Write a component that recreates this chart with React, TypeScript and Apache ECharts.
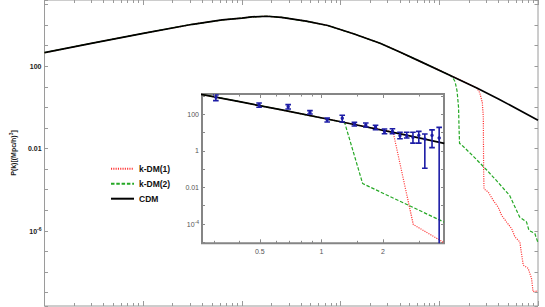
import React, { useEffect, useRef } from "react";
import * as echarts from "echarts";

// ---- main panel: CDM linear power spectrum (k in h/Mpc, P in (Mpc/h)^3)
const cdmK = [1e-4, 3.16e-4, 1e-3, 3.16e-3, 6.31e-3, 0.01, 0.0126, 0.0178, 0.0251, 0.0447, 0.0741, 0.135, 0.251, 0.398, 0.631, 1.26, 2.4, 3.98, 10];
const cdmP = [457, 1380, 3980, 10960, 17800, 21900, 25100, 26900, 23800, 15500, 9550, 3800, 1320, 490, 178, 38, 8.7, 2.57, 0.24];

// k-DM(2) departs from CDM (tail)
const green2K = [1.358, 1.445, 1.514, 1.567, 1.585, 1.603, 1.66, 2.239, 3.02, 3.802, 5.164, 6.516, 7.656, 8.091, 9.29, 10];
const green2P = [29.5, 17.8, 6.17, 1.0, 0.1, 0.0178, 0.0162, 0.00398, 9.12e-4, 2.75e-4, 5.25e-5, 4.68e-6, 2.69e-6, 1.07e-6, 7.41e-7, 2.69e-7];

// k-DM(1) departs from CDM (tail)
const red1K = [2.57, 2.729, 2.793, 2.812, 2.838, 3.141, 3.524, 3.954, 4.285, 4.808, 5.408, 5.834, 6.546, 6.808, 7.079, 7.943, 8.59, 8.913, 10];
const red1P = [5.13, 1.69, 0.316, 8.51e-4, 1.1e-4, 7.59e-5, 3.02e-5, 1.41e-5, 5.62e-6, 2.69e-6, 1.29e-6, 5.13e-7, 2.88e-7, 7.94e-8, 2.19e-8, 1.51e-8, 5.01e-9, 1.12e-9, 1.2e-9];

// ---- inset: coarse model tails
const greenInsetK = [1.295, 1.59, 3.97];
const greenInsetP = [39, 0.0162, 1.26e-4];
const redInsetK = [2.24, 2.81, 3.97];
const redInsetP = [10.6, 9.3e-5, 9.5e-6];

// ---- inset: measured points with error bars
const errK = [0.305, 0.496, 0.688, 0.879, 1.067, 1.264, 1.449, 1.647, 1.838, 2.033, 2.223, 2.42, 2.61, 2.8, 2.99, 3.2, 3.47, 3.76];
const errP = [859, 336, 258, 126, 49.9, 60.3, 30.1, 25.2, 19.5, 11.4, 11.4, 6.76, 6.76, 5.45, 7.0, 4.4, 7.0, 5.0];
const errLo = [558, 243, 196, 104, 37.8, 37.8, 22.8, 20, 14.3, 8.6, 8.6, 4.56, 5.0, 2.65, 2.65, 0.112, 1.5, 1e-6];
const errHi = [1135, 417, 336, 158, 62.6, 88, 36.3, 33.3, 24.9, 15.6, 16.2, 10.3, 10.3, 10.3, 11.6, 8.3, 14, 19.3];

// ---- tick labels
const mainYLabels: Record<number, string> = { 2: "100", [-2]: "0.01", [-6]: "{b|10}{s|-6}" };
const insetYLabels: Record<number, string> = { 2: "100", 0: "1", [-2]: "0.01", [-4]: "{b|10}{s|-4}" };
const insetXLabels: Record<string, string> = { "0.5": "0.5", "1": "1", "2": "2" };
const insetMinorK = [0.3, 0.4, 0.6, 0.7, 0.8, 0.9, 1.5, 3];

// inset k window (data outside is not passed to the inset lines)
const INSET_KMIN = 0.261;
const INSET_KMAX = 3.97;

const lg = Math.log10;
const pairs = (ks: number[], ps: number[]) => ks.map((k, i) => [k, lg(ps[i])]);
const cdmData = pairs(cdmK, cdmP);
const headUntil = (kmax: number) => cdmData.filter((d) => d[0] < kmax);
const insetWindow = (d: number[][]) => {
  const first = Math.max(0, d.findIndex((p) => p[0] >= INSET_KMIN) - 1);
  let last = d.length - 1;
  for (let i = 0; i < d.length; i++) if (d[i][0] > INSET_KMAX) { last = i; break; }
  return d.slice(first, last + 1);
};

const redMain = [...headUntil(red1K[0]), ...pairs(red1K, red1P)];
const greenMain = [...headUntil(green2K[0]), ...pairs(green2K, green2P)];
const redInset = insetWindow([...headUntil(redInsetK[0]), ...pairs(redInsetK, redInsetP)]);
const greenInset = insetWindow([...headUntil(greenInsetK[0]), ...pairs(greenInsetK, greenInsetP)]);
const cdmInset = insetWindow(cdmData);
const errData = errK.map((k, i) => [k, lg(errP[i]), lg(errLo[i]), lg(errHi[i])]);

const mainMinor: number[][] = [];
for (let d = -4; d <= 0; d++) for (let m = 2; m <= 9; m++) mainMinor.push([m * Math.pow(10, d), 0]);
const insetMinor = insetMinorK.map((k) => [k, 0]);

const FONT = "Liberation Sans, Arial, sans-serif";
const RED = "#ff3434";
const GREEN = "#25a825";
const BLUE = "#1c1ca6";
const FRAME = "#9a9a9a";

const fmtY = (labels: Record<number, string>) => (v: number) => {
  const r = Math.round(v);
  if (Math.abs(v - r) > 1e-6) return "";
  return labels[r] ?? "";
};

const richSup = (size: number, color: string, weight: string) => ({
  b: { fontSize: size, fontWeight: weight, color, fontFamily: FONT, lineHeight: 9, verticalAlign: "bottom" },
  s: { fontSize: size * 0.72, fontWeight: weight, color, fontFamily: FONT, lineHeight: 6, verticalAlign: "top" },
});

const tickRender = (len: number, color: string) => (params: any, api: any) => {
  const cs = params.coordSys;
  let x = api.coord([api.value(0), api.value(1)])[0];
  x = Math.round(x - 0.5) + 0.5;
  const yb = cs.y + cs.height;
  const yt = cs.y;
  return {
    type: "group",
    children: [
      { type: "line", shape: { x1: x, y1: yb, x2: x, y2: yb - len }, style: { stroke: color, lineWidth: 1 } },
      { type: "line", shape: { x1: x, y1: yt, x2: x, y2: yt + len }, style: { stroke: color, lineWidth: 1 } },
    ],
  };
};

const errRender = (params: any, api: any) => {
  const k = api.value(0);
  const p = api.coord([k, api.value(1)]);
  const lo = api.coord([k, api.value(2)]);
  const hi = api.coord([k, api.value(3)]);
  const st = { stroke: BLUE, lineWidth: 1.6 };
  return {
    type: "group",
    children: [
      { type: "line", shape: { x1: p[0], y1: lo[1], x2: p[0], y2: hi[1] }, style: st },
      { type: "line", shape: { x1: p[0] - 2.8, y1: lo[1], x2: p[0] + 2.8, y2: lo[1] }, style: st },
      { type: "line", shape: { x1: p[0] - 2.8, y1: hi[1], x2: p[0] + 2.8, y2: hi[1] }, style: st },
      { type: "circle", shape: { cx: p[0], cy: p[1], r: 1.7 }, style: { fill: BLUE } },
    ],
  };
};

const mainX = (pos: "bottom" | "top") => ({
  type: "log",
  gridIndex: 0,
  position: pos,
  min: 1e-4,
  max: 10,
  logBase: 10,
  axisLine: { show: false, onZero: false },
  axisTick: { show: true, inside: true, length: 5, lineStyle: { color: FRAME, width: 1 } },
  axisLabel: { show: false },
  splitLine: { show: false },
});

const mainY = (pos: "left" | "right", labels: boolean) => ({
  type: "value",
  gridIndex: 0,
  position: pos,
  min: -9.65,
  max: 5.22,
  splitNumber: 15,
  minInterval: 1,
  maxInterval: 1,
  axisLine: { show: false, onZero: false },
  axisTick: { show: true, inside: true, length: 3.5, lineStyle: { color: FRAME, width: 1 } },
  axisLabel: {
    show: labels,
    margin: 3,
    fontSize: 7,
    fontWeight: "bold",
    color: "#1a1a1a",
    fontFamily: FONT,
    formatter: fmtY(mainYLabels),
    rich: richSup(7, "#1a1a1a", "bold"),
  },
  splitLine: { show: false },
  ...(labels
    ? {
        name: "{a|P(k)[(Mpc/h)}{s|3}{a|]}",
        nameLocation: "middle",
        nameGap: 20,
        nameTextStyle: {
          fontFamily: FONT,
          rich: {
            a: { fontSize: 7, fontWeight: "bold", color: "#1a1a1a", fontFamily: FONT, lineHeight: 9, verticalAlign: "bottom" },
            s: { fontSize: 5, fontWeight: "bold", color: "#1a1a1a", fontFamily: FONT, lineHeight: 6, verticalAlign: "top" },
          },
        },
      }
    : {}),
});

const insetX = (pos: "bottom" | "top", labels: boolean) => ({
  type: "log",
  gridIndex: 1,
  position: pos,
  logBase: 2,
  min: INSET_KMIN,
  max: INSET_KMAX,
  axisLine: { show: false, onZero: false },
  axisTick: { show: true, inside: true, length: 4, lineStyle: { color: "#888", width: 1 } },
  axisLabel: {
    show: labels,
    margin: 5,
    fontSize: 7,
    color: "#555",
    fontFamily: FONT,
    showMinLabel: false,
    showMaxLabel: false,
    formatter: (v: number) => insetXLabels[String(Math.round(v * 1000) / 1000)] ?? "",
  },
  splitLine: { show: false },
});

const insetY = (pos: "left" | "right", labels: boolean) => ({
  type: "value",
  gridIndex: 1,
  position: pos,
  min: -5.06,
  max: 3.11,
  splitNumber: 8,
  minInterval: 1,
  maxInterval: 1,
  axisLine: { show: false, onZero: false },
  axisTick: { show: true, inside: true, length: 3, lineStyle: { color: "#888", width: 1 } },
  axisLabel: {
    show: labels,
    margin: 3,
    fontSize: 7,
    color: "#555",
    fontFamily: FONT,
    formatter: fmtY(insetYLabels),
    rich: richSup(7, "#555", "normal"),
  },
  splitLine: { show: false },
});

const lineSeries = (name: string, data: number[][], grid: number, color: string, width: number, type: any, z: number) => ({
  type: "line",
  name,
  data,
  xAxisIndex: grid === 0 ? 0 : 2,
  yAxisIndex: grid === 0 ? 0 : 2,
  symbol: "none",
  showSymbol: false,
  clip: true,
  z,
  lineStyle: { color, width, type },
  itemStyle: { color },
});

const option: any = {
  animation: false,
  textStyle: { fontFamily: FONT },
  grid: [
    { left: 43, right: 7, top: -1, bottom: 1, show: true, borderColor: FRAME, borderWidth: 1, backgroundColor: "transparent" },
    { left: 202, right: 101, top: 94, bottom: 63.7, show: true, borderColor: "#858585", borderWidth: 2, backgroundColor: "#fff" },
  ],
  xAxis: [mainX("bottom"), mainX("top"), insetX("bottom", true), insetX("top", false)],
  yAxis: [mainY("left", true), mainY("right", false), insetY("left", true), insetY("right", false)],
  legend: {
    data: ["k-DM(1)", "k-DM(2)", "CDM"],
    orient: "vertical",
    left: 110,
    top: 163.7,
    itemWidth: 23,
    itemHeight: 8,
    itemGap: 5,
    padding: 0,
    selectedMode: false,
    itemStyle: { opacity: 0 },
    textStyle: { fontSize: 8.5, fontWeight: "bold", color: "#111", fontFamily: FONT, lineHeight: 10 },
  },
  series: [
    lineSeries("k-DM(1)", redMain, 0, RED, 1.2, [1.1, 1.2], 3),
    lineSeries("k-DM(2)", greenMain, 0, GREEN, 1.2, [3.5, 1.8], 3),
    lineSeries("CDM", cdmData, 0, "#000", 1.7, "solid", 4),
    {
      type: "custom",
      name: "mainMinorTicks",
      xAxisIndex: 0,
      yAxisIndex: 0,
      data: mainMinor,
      encode: { x: 0, y: 1 },
      renderItem: tickRender(3, FRAME),
      silent: true,
      z: 2,
    },
    lineSeries("k-DM(1)", redInset, 1, RED, 1.2, [1.1, 1.2], 10),
    lineSeries("k-DM(2)", greenInset, 1, GREEN, 1.2, [3.5, 1.8], 10),
    lineSeries("CDM", cdmInset, 1, "#000", 1.7, "solid", 11),
    {
      type: "custom",
      name: "data",
      xAxisIndex: 2,
      yAxisIndex: 2,
      data: errData,
      encode: { x: 0, y: 1 },
      renderItem: errRender,
      clip: true,
      silent: true,
      z: 12,
    },
    {
      type: "custom",
      name: "insetMinorTicks",
      xAxisIndex: 2,
      yAxisIndex: 2,
      data: insetMinor,
      encode: { x: 0, y: 1 },
      renderItem: tickRender(2.5, "#888"),
      silent: true,
      z: 12,
    },
  ],
};

export default function App() {
  const ref = useRef<HTMLDivElement>(null);
  useEffect(() => {
    if (!ref.current) return;
    const chart = echarts.init(ref.current, null, { renderer: "svg" });
    chart.setOption(option);
    return () => chart.dispose();
  }, []);
  return <div ref={ref} style={{ position: "absolute", left: 0, top: 0, width: 545, height: 307 }} />;
}
